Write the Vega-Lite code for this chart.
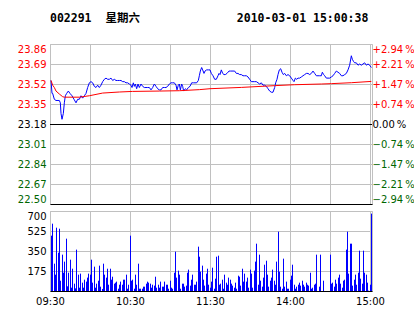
{
  "$schema": "https://vega.github.io/schema/vega-lite/v6.json",
  "padding": {"left": 16, "top": 12, "right": 0, "bottom": 0},
  "background": "white",
  "spacing": 5,
  "config": {
    "view": {"stroke": "#c0c0c0", "strokeWidth": 1},
    "axis": {"labelFont": "DejaVu Sans", "labelFontSize": 10, "gridColor": "#c0c0c0", "gridOpacity": 1, "gridWidth": 1, "ticks": false, "domain": false, "labelColor": "black"}
  },
  "datasets": {
    "price": [
      {"m":0.75,"p":23.55},{"m":1.5,"p":23.44},{"m":2,"p":23.44},{"m":3.25,"p":23.39},{"m":4.5,"p":23.38},{"m":7,"p":23.38},{"m":7.75,"p":23.36},{"m":8.25,"p":23.27},{"m":9,"p":23.22},{"m":10,"p":23.27},{"m":10.75,"p":23.36},{"m":11.5,"p":23.42},{"m":12.5,"p":23.44},{"m":13.75,"p":23.46},{"m":15,"p":23.44},{"m":16.5,"p":23.42},{"m":18,"p":23.39},{"m":19.5,"p":23.36},{"m":20.75,"p":23.39},{"m":22,"p":23.39},{"m":23.25,"p":23.42},{"m":24.5,"p":23.40},{"m":25.75,"p":23.42},{"m":27,"p":23.44},{"m":28.25,"p":23.49},{"m":29.5,"p":23.53},{"m":30.75,"p":23.54},{"m":32,"p":23.53},{"m":33.25,"p":23.50},{"m":34.5,"p":23.49},{"m":35.75,"p":23.51},{"m":37,"p":23.49},{"m":38.25,"p":23.51},{"m":39.5,"p":23.54},{"m":40.75,"p":23.56},{"m":42,"p":23.57},{"m":43.25,"p":23.56},{"m":44.5,"p":23.56},{"m":45.75,"p":23.57},{"m":47,"p":23.55},{"m":48.25,"p":23.56},{"m":49.5,"p":23.55},{"m":50.75,"p":23.55},{"m":52,"p":23.55},{"m":53.25,"p":23.55},{"m":54.5,"p":23.54},{"m":55.75,"p":23.54},{"m":57,"p":23.53},{"m":58.25,"p":23.53},{"m":59.5,"p":23.52},{"m":60.75,"p":23.51},{"m":61.5,"p":23.49},{"m":62.5,"p":23.53},{"m":63.25,"p":23.50},{"m":64,"p":23.52},{"m":65,"p":23.48},{"m":66,"p":23.52},{"m":67,"p":23.49},{"m":68.25,"p":23.52},{"m":69.5,"p":23.50},{"m":70.75,"p":23.49},{"m":72,"p":23.49},{"m":73.25,"p":23.49},{"m":74.5,"p":23.49},{"m":75.75,"p":23.47},{"m":77,"p":23.49},{"m":78.25,"p":23.52},{"m":79.5,"p":23.50},{"m":80.75,"p":23.48},{"m":82,"p":23.47},{"m":83.25,"p":23.47},{"m":84.5,"p":23.49},{"m":85.75,"p":23.49},{"m":87,"p":23.49},{"m":88.25,"p":23.50},{"m":89.5,"p":23.52},{"m":90.75,"p":23.53},{"m":92,"p":23.53},{"m":93.25,"p":23.53},{"m":94.5,"p":23.51},{"m":95.25,"p":23.47},{"m":96.25,"p":23.51},{"m":97,"p":23.52},{"m":97.75,"p":23.47},{"m":98.75,"p":23.52},{"m":99.5,"p":23.50},{"m":100.25,"p":23.46},{"m":101.5,"p":23.48},{"m":102.5,"p":23.47},{"m":103.75,"p":23.49},{"m":105,"p":23.50},{"m":106.25,"p":23.53},{"m":107.5,"p":23.53},{"m":108.75,"p":23.53},{"m":110,"p":23.53},{"m":111.25,"p":23.55},{"m":112,"p":23.59},{"m":112.75,"p":23.63},{"m":113.75,"p":23.66},{"m":114.5,"p":23.64},{"m":115.5,"p":23.61},{"m":116.25,"p":23.63},{"m":117.5,"p":23.64},{"m":118.75,"p":23.64},{"m":120,"p":23.64},
      {"m":121,"p":23.61},{"m":122.25,"p":23.59},{"m":123.5,"p":23.56},{"m":124.75,"p":23.56},{"m":126,"p":23.59},{"m":126.75,"p":23.61},{"m":127.5,"p":23.60},{"m":128.5,"p":23.64},{"m":129.5,"p":23.61},{"m":130.5,"p":23.60},{"m":131.5,"p":23.60},{"m":132.75,"p":23.61},{"m":134.25,"p":23.63},{"m":135.5,"p":23.63},{"m":137.25,"p":23.63},{"m":138.5,"p":23.63},{"m":139.75,"p":23.61},{"m":141,"p":23.61},{"m":142.25,"p":23.60},{"m":143.5,"p":23.60},{"m":144.75,"p":23.59},{"m":146,"p":23.59},{"m":147.25,"p":23.59},{"m":148.5,"p":23.58},{"m":149.75,"p":23.56},{"m":151,"p":23.54},{"m":152.25,"p":23.54},{"m":153.5,"p":23.54},{"m":154.75,"p":23.54},{"m":156,"p":23.53},{"m":157.25,"p":23.52},{"m":158.5,"p":23.53},{"m":159.75,"p":23.51},{"m":161,"p":23.51},{"m":162.25,"p":23.50},{"m":163.5,"p":23.48},{"m":164.75,"p":23.46},{"m":166,"p":23.45},{"m":167.25,"p":23.45},{"m":168.5,"p":23.49},{"m":169.25,"p":23.53},{"m":170.25,"p":23.56},{"m":171,"p":23.60},{"m":172,"p":23.64},{"m":173,"p":23.65},{"m":174,"p":23.62},{"m":175,"p":23.60},{"m":176,"p":23.61},{"m":177.25,"p":23.59},{"m":178.5,"p":23.60},{"m":179.75,"p":23.59},{"m":181,"p":23.57},{"m":182.25,"p":23.55},{"m":183,"p":23.54},{"m":184,"p":23.57},{"m":185,"p":23.56},{"m":186,"p":23.57},{"m":187.25,"p":23.57},{"m":188.5,"p":23.58},{"m":189.75,"p":23.59},{"m":191,"p":23.60},{"m":192.25,"p":23.61},{"m":193.5,"p":23.61},{"m":194.75,"p":23.60},{"m":196,"p":23.61},{"m":197.25,"p":23.63},{"m":198.5,"p":23.61},{"m":199.75,"p":23.59},{"m":201,"p":23.59},{"m":202.25,"p":23.59},{"m":203.5,"p":23.59},{"m":204.25,"p":23.62},{"m":205.25,"p":23.60},{"m":206,"p":23.59},{"m":207.25,"p":23.57},{"m":208.5,"p":23.57},{"m":209.75,"p":23.57},{"m":211,"p":23.58},{"m":212.25,"p":23.59},{"m":213.5,"p":23.61},{"m":214.75,"p":23.63},{"m":216,"p":23.62},{"m":217.25,"p":23.61},{"m":218.5,"p":23.59},{"m":219.75,"p":23.59},{"m":221,"p":23.60},{"m":222.25,"p":23.61},{"m":223.5,"p":23.64},{"m":224.75,"p":23.68},{"m":226,"p":23.76},{"m":226.75,"p":23.73},{"m":227.75,"p":23.71},{"m":228.5,"p":23.70},{"m":229.75,"p":23.70},{"m":231,"p":23.68},{"m":232.25,"p":23.69},{"m":233.5,"p":23.68},{"m":234.75,"p":23.69},{"m":236,"p":23.70},{"m":237.25,"p":23.68},{"m":238.5,"p":23.69},{"m":239.75,"p":23.68},{"m":241,"p":23.66}
    ],
    "avg": [
      {"m":0.75,"a":23.55},{"m":2,"a":23.51},{"m":3.25,"a":23.49},{"m":4.5,"a":23.46},{"m":7,"a":23.435},{"m":9.5,"a":23.412},{"m":10.75,"a":23.408},{"m":22,"a":23.408},{"m":29.5,"a":23.42},{"m":39.5,"a":23.443},{"m":52,"a":23.452},{"m":62,"a":23.457},{"m":82,"a":23.46},{"m":97,"a":23.463},{"m":112,"a":23.472},{"m":120,"a":23.48},{"m":143.5,"a":23.491},{"m":168.5,"a":23.506},{"m":183.5,"a":23.514},{"m":203.5,"a":23.52},{"m":211,"a":23.523},{"m":226,"a":23.531},{"m":241,"a":23.542}
    ],
    "vol": [
      {"i":0,"v":484},{"i":1,"v":589},{"i":2,"v":239},{"i":3,"v":143},{"i":4,"v":554},{"i":5,"v":335},{"i":6,"v":545},{"i":7,"v":90},{"i":8,"v":318},{"i":9,"v":160},
      {"i":10,"v":257},{"i":11,"v":458},{"i":12,"v":41},{"i":13,"v":160},{"i":14,"v":274},{"i":15,"v":29},{"i":16,"v":195},{"i":17,"v":64},{"i":18,"v":23},{"i":19,"v":362},
      {"i":20,"v":143},{"i":21,"v":29},{"i":22,"v":152},{"i":23,"v":73},{"i":24,"v":29},{"i":25,"v":99},{"i":26,"v":82},{"i":27,"v":117},{"i":28,"v":152},{"i":29,"v":143},
      {"i":30,"v":274},{"i":31,"v":73},{"i":32,"v":213},{"i":33,"v":29},{"i":34,"v":64},{"i":35,"v":90},{"i":36,"v":222},{"i":37,"v":38},{"i":38,"v":18},{"i":39,"v":239},
      {"i":40,"v":143},{"i":41,"v":117},{"i":42,"v":195},{"i":43,"v":55},{"i":44,"v":195},{"i":45,"v":99},{"i":46,"v":125},{"i":47,"v":64},{"i":48,"v":73},{"i":49,"v":82},
      {"i":50,"v":20},{"i":51,"v":55},{"i":52,"v":82},{"i":53,"v":55},{"i":54,"v":99},{"i":55,"v":99},{"i":56,"v":143},{"i":57,"v":20},{"i":58,"v":55},{"i":59,"v":484},
      {"i":60,"v":90},{"i":61,"v":99},{"i":62,"v":20},{"i":63,"v":143},{"i":64,"v":55},{"i":65,"v":239},{"i":66,"v":20},{"i":67,"v":20},{"i":68,"v":20},{"i":69,"v":38},
      {"i":70,"v":38},{"i":71,"v":64},{"i":72,"v":82},{"i":73,"v":73},{"i":74,"v":64},{"i":75,"v":29},{"i":76,"v":55},{"i":77,"v":47},{"i":78,"v":125},{"i":79,"v":29},
      {"i":80,"v":55},{"i":81,"v":29},{"i":82,"v":82},{"i":83,"v":38},{"i":84,"v":38},{"i":85,"v":82},{"i":86,"v":55},{"i":87,"v":55},{"i":88,"v":20},{"i":89,"v":90},
      {"i":90,"v":29},{"i":91,"v":20},{"i":92,"v":160},{"i":93,"v":344},{"i":94,"v":117},{"i":95,"v":178},{"i":96,"v":143},{"i":97,"v":20},{"i":98,"v":64},{"i":99,"v":64},
      {"i":100,"v":38},{"i":101,"v":47},{"i":102,"v":160},{"i":103,"v":187},{"i":104,"v":47},{"i":105,"v":99},{"i":106,"v":143},{"i":107,"v":55},{"i":108,"v":55},{"i":109,"v":82},
      {"i":110,"v":388},{"i":111,"v":300},{"i":112,"v":169},{"i":113,"v":222},{"i":114,"v":99},{"i":115,"v":47},{"i":116,"v":152},{"i":117,"v":195},{"i":118,"v":55},
      {"i":119,"v":29},{"i":120,"v":82},{"i":121,"v":204},{"i":122,"v":20},{"i":123,"v":108},{"i":124,"v":300},{"i":125,"v":309},{"i":126,"v":55},{"i":127,"v":64},{"i":128,"v":99},
      {"i":129,"v":20},{"i":130,"v":143},{"i":131,"v":73},{"i":132,"v":55},{"i":133,"v":117},{"i":134,"v":99},{"i":135,"v":64},{"i":136,"v":47},{"i":137,"v":29},{"i":138,"v":73},
      {"i":139,"v":20},{"i":140,"v":134},{"i":141,"v":125},{"i":142,"v":47},{"i":143,"v":195},{"i":144,"v":82},{"i":145,"v":152},{"i":146,"v":82},{"i":147,"v":117},{"i":148,"v":29},
      {"i":149,"v":187},{"i":150,"v":152},{"i":151,"v":29},{"i":152,"v":178},{"i":153,"v":257},{"i":154,"v":414},{"i":155,"v":55},{"i":156,"v":318},{"i":157,"v":90},{"i":158,"v":38},
      {"i":159,"v":117},{"i":160,"v":230},{"i":161,"v":265},{"i":162,"v":143},{"i":163,"v":38},{"i":164,"v":90},{"i":165,"v":117},{"i":166,"v":187},{"i":167,"v":90},{"i":168,"v":55},
      {"i":169,"v":257},{"i":170,"v":519},{"i":171,"v":169},{"i":172,"v":38},{"i":173,"v":20},{"i":174,"v":283},{"i":175,"v":38},{"i":176,"v":82},{"i":177,"v":20},{"i":178,"v":20},
      {"i":179,"v":99},{"i":180,"v":134},{"i":181,"v":230},{"i":182,"v":55},{"i":183,"v":20},{"i":184,"v":38},{"i":185,"v":55},{"i":186,"v":73},{"i":187,"v":47},{"i":188,"v":90},
      {"i":189,"v":55},{"i":190,"v":38},{"i":191,"v":73},{"i":192,"v":55},{"i":193,"v":47},{"i":194,"v":160},{"i":195,"v":20},{"i":196,"v":29},{"i":197,"v":55},{"i":198,"v":64},
      {"i":199,"v":318},{"i":200,"v":0},{"i":201,"v":38},{"i":202,"v":318},{"i":203,"v":0},{"i":204,"v":90},{"i":205,"v":0},{"i":206,"v":0},{"i":207,"v":0},{"i":208,"v":0},
      {"i":209,"v":318},{"i":210,"v":64},{"i":211,"v":73},{"i":212,"v":38},{"i":213,"v":99},{"i":214,"v":64},{"i":215,"v":117},{"i":216,"v":143},{"i":217,"v":64},{"i":218,"v":29},
      {"i":219,"v":90},{"i":220,"v":99},{"i":221,"v":362},{"i":222,"v":519},{"i":223,"v":152},{"i":224,"v":414},{"i":225,"v":414},{"i":226,"v":47},{"i":227,"v":99},{"i":228,"v":143},
      {"i":229,"v":55},{"i":230,"v":160},{"i":231,"v":353},{"i":232,"v":108},{"i":233,"v":64},{"i":234,"v":353},{"i":235,"v":160},{"i":236,"v":143},{"i":237,"v":73},{"i":238,"v":3},
      {"i":239,"v":55},{"i":240,"v":677}
    ]
  },
  "resolve": {"scale": {"x": "independent", "y": "independent"}},
  "vconcat": [
    {
      "width": 322,
      "height": 160,
      "title": {
        "text": "002291\u00a0\u00a0星期六\u00a0\u00a0\u00a0\u00a0\u00a0\u00a0\u00a0\u00a0\u00a0\u00a0\u00a0\u00a0\u00a0\u00a02010-03-01 15:00:38",
        "anchor": "start",
        "frame": "group",
        "font": "'DejaVu Sans Mono', 'Noto Sans CJK SC', monospace",
        "fontSize": 11.5,
        "fontWeight": "bold",
        "color": "black",
        "baseline": "alphabetic",
        "offset": 11
      },
      "layer": [
        {
          "data": {"values": [{"base": 23.18}]},
          "mark": {"type": "rule", "color": "black", "strokeWidth": 1, "yOffset": 0.5},
          "encoding": {
            "y": {"field": "base", "type": "quantitative", "scale": {"domain": [22.5, 23.86], "nice": false, "zero": false}, "axis": null}
          }
        },
        {
          "data": {"name": "price"},
          "mark": {"type": "line", "color": "#0000ff", "strokeWidth": 1},
          "encoding": {
            "x": {"field": "m", "type": "quantitative", "scale": {"domain": [0, 241.5], "nice": false, "zero": false},
              "axis": {"values": [0, 30, 60, 90, 120, 150, 180, 210, 240], "labels": false, "ticks": false, "domain": true, "domainColor": "black", "grid": true, "title": null}},
            "y": {"field": "p", "type": "quantitative", "scale": {"domain": [22.5, 23.86], "nice": false, "zero": false},
              "axis": {"values": [22.5, 22.67, 22.84, 23.01, 23.18, 23.35, 23.52, 23.69, 23.86], "format": ".2f", "labelFlush": true, "labelPadding": 4, "grid": true, "title": null,
                "labelColor": {"condition": [{"test": "datum.value > 23.19", "value": "#ff0000"}, {"test": "datum.value < 23.17", "value": "#006600"}], "value": "#000000"}}}
          }
        },
        {
          "data": {"name": "avg"},
          "mark": {"type": "line", "color": "#ff0000", "strokeWidth": 1},
          "encoding": {
            "x": {"field": "m", "type": "quantitative"},
            "y": {"field": "a", "type": "quantitative", "scale": {"domain": [22.5, 23.86], "nice": false, "zero": false},
              "axis": {"orient": "right", "values": [22.5, 22.67, 22.84, 23.01, 23.18, 23.35, 23.52, 23.69, 23.86], "labelFlush": true, "labelPadding": 0, "grid": false, "title": null,
                "labelExpr": "datum.value > 23.8 ? '+2.94\u2009%' : datum.value > 23.6 ? '+2.21\u2009%' : datum.value > 23.45 ? '+1.47\u2009%' : datum.value > 23.3 ? '+0.74\u2009%' : datum.value > 23.1 ? '\u20070.00\u2009%' : datum.value > 22.95 ? '\u22120.74\u2009%' : datum.value > 22.8 ? '\u22121.47\u2009%' : datum.value > 22.6 ? '\u22122.21\u2009%' : '\u22122.94\u2009%'",
                "labelColor": {"condition": [{"test": "datum.value > 23.19", "value": "#ff0000"}, {"test": "datum.value < 23.17", "value": "#006600"}], "value": "#000000"}}}
          }
        }
      ],
      "resolve": {"scale": {"y": "independent"}}
    },
    {
      "width": 322,
      "height": 80,
      "data": {"name": "vol"},
      "mark": {"type": "rule", "color": "#0000ff", "strokeWidth": 1, "xOffset": 1.5},
      "encoding": {
        "x": {"field": "i", "type": "quantitative", "scale": {"domain": [0, 241.5], "nice": false, "zero": false, "round": true},
          "axis": {"values": [0, 30, 60, 90, 120, 150, 180, 210, 240], "grid": true, "ticks": false, "domain": true, "domainColor": "black", "labelPadding": 5, "labelOverlap": false, "labelFlush": false, "title": null,
            "labelExpr": "datum.value == 0 ? '09:30' : datum.value == 60 ? '10:30' : datum.value == 120 ? '11:30' : datum.value == 180 ? '14:00' : datum.value == 240 ? '15:00' : ''"}},
        "y": {"field": "v", "type": "quantitative", "scale": {"domain": [0, 700], "nice": false, "zero": true},
          "axis": {"values": [175, 350, 525, 700], "grid": true, "labelFlush": true, "labelPadding": 4, "title": null}},
        "y2": {"datum": 0}
      }
    }
  ]
}
